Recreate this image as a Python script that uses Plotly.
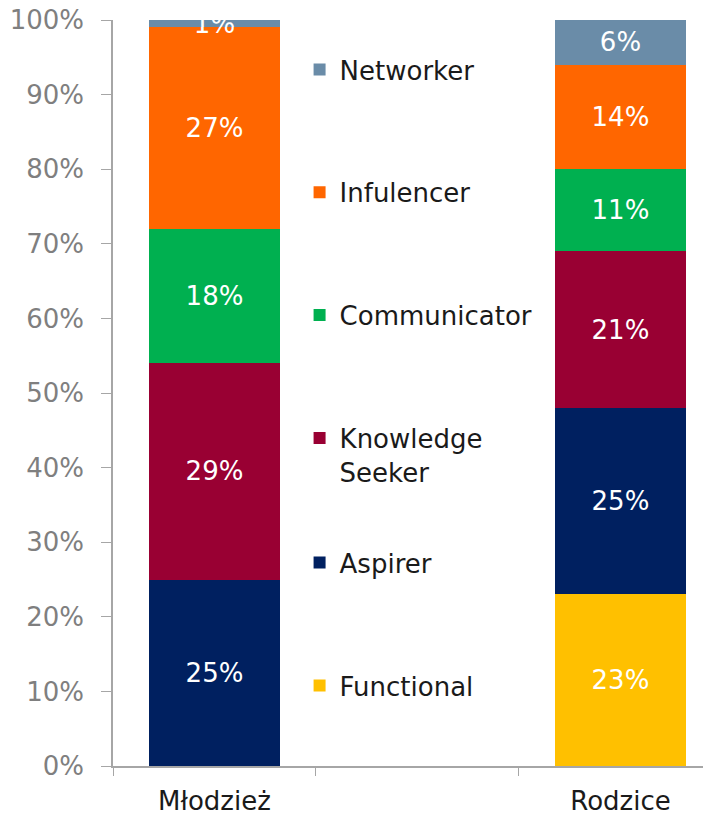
import plotly.graph_objects as go

# ── Data ─────────────────────────────────────────────────────────────────────
categories = ["Młodzież", "Rodzice"]
spacer = " "  # empty middle slot where the legend sits

functional = [0, 23]
aspirer = [25, 25]
knowledge_seeker = [29, 21]
communicator = [18, 11]
infulencer = [27, 14]
networker = [1, 6]

y_ticks = list(range(0, 101, 10))
y_tick_labels = [f"{v}%" for v in y_ticks]

# name, values, colour, legend box, rank inside the legend
series = [
    ("Functional", functional, "#FFC000", "legend2", 6),
    ("Aspirer", aspirer, "#002060", "legend2", 5),
    ("Knowledge<br>Seeker", knowledge_seeker, "#990033", "legend", 4),
    ("Communicator", communicator, "#00B050", "legend", 3),
    ("Infulencer", infulencer, "#FF6600", "legend", 2),
    ("Networker", networker, "#6A8CA8", "legend", 1),
]

FONT = "Verdana, DejaVu Sans, sans-serif"
AXIS_GREY = "#A6A6A6"

fig = go.Figure()

for name, vals, color, legend_ref, rank in series:
    fig.add_trace(
        go.Bar(
            x=categories,
            y=vals,
            name=name,
            marker=dict(color=color, line=dict(width=0)),
            width=0.65,
            text=[f"{v}%" if v else "" for v in vals],
            textposition="inside",
            insidetextanchor="middle",
            textangle=0,
            constraintext="none",
            textfont=dict(family=FONT, size=26, color="white"),
            legendgroup=name,
            legendrank=rank,
            legend=legend_ref,
            hoverinfo="skip",
        )
    )

legend_style = dict(
    xanchor="left",
    yanchor="top",
    traceorder="grouped",
    tracegroupgap=86,
    valign="top",
    itemwidth=30,
    font=dict(family=FONT, size=26, color="#1A1A1A"),
    bgcolor="rgba(0,0,0,0)",
)

# the page body keeps an 8px margin, so the figure is 8px smaller each way
fig.update_layout(
    width=703,
    height=807,
    barmode="stack",
    plot_bgcolor="white",
    paper_bgcolor="white",
    margin=dict(l=105, r=0, t=12, b=49),
    showlegend=True,
    legend=dict(x=0.312, y=0.965, **legend_style),
    legend2=dict(x=0.312, y=0.304, **legend_style),
    font=dict(family=FONT),
)

fig.update_xaxes(
    type="category",
    categoryorder="array",
    categoryarray=[categories[0], spacer, categories[1]],
    range=[-0.5, 2.446],
    tickson="boundaries",
    ticks="outside",
    ticklen=8,
    tickcolor=AXIS_GREY,
    showline=True,
    linecolor=AXIS_GREY,
    linewidth=1.5,
    showgrid=False,
    zeroline=False,
    automargin=False,
    ticklabelstandoff=11,
    ticklabeloverflow="allow",
    tickfont=dict(family=FONT, size=26, color="#1A1A1A"),
)

fig.update_yaxes(
    range=[0, 100],
    tickmode="array",
    tickvals=y_ticks,
    ticktext=y_tick_labels,
    ticks="outside",
    ticklen=10,
    tickcolor=AXIS_GREY,
    showline=True,
    linecolor=AXIS_GREY,
    linewidth=1.5,
    showgrid=False,
    zeroline=False,
    automargin=False,
    ticklabelstandoff=12,
    ticklabeloverflow="allow",
    tickfont=dict(family=FONT, size=26, color="#7F7F7F"),
)

fig.write_html("out.html")
